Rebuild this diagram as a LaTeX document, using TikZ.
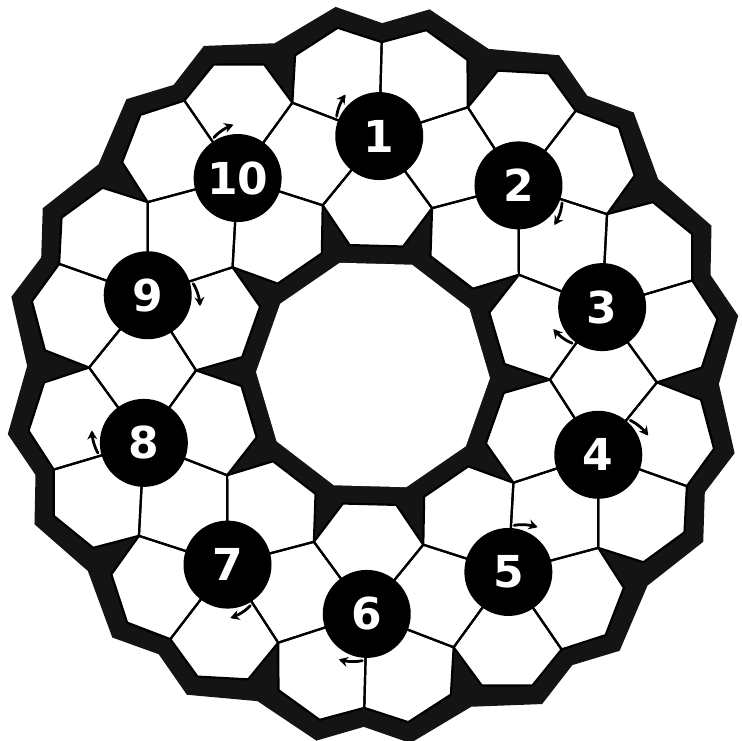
\documentclass[tikz,border=0pt]{standalone}
\usepackage{fontspec}
\setsansfont{DejaVu Sans}
\usetikzlibrary{arrows.meta}
\begin{document}
\begin{tikzpicture}[x=1pt,y=1pt,
  band/.style={fill=black!92},
  cellfill/.style={fill=white},
  celledge/.style={draw=black,line width=2.2pt,line join=round},
  numcirc/.style={circle,fill=black,minimum size=88pt,inner sep=0pt,text=white,
    font=\sffamily\bfseries\fontsize{44}{44}\selectfont},
  turn/.style={line width=2.8pt,line cap=round,-{Stealth[length=9pt,width=10pt]}}
]
\useasboundingbox (-373,-366) rectangle (369,375);
\begin{scope}[rotate=-1.5]
  % outer ring (black), including everything inside
  \fill[band] (108:346) \foreach \t in {90,54,...,-234} {
      -- ({\t+7.3}:370) -- (\t:352) -- ({\t-7.3}:370) -- ({\t-18}:346) } -- cycle;
  % central hole
  \fill[white] (0:117) \foreach \a in {36,72,...,324} { -- (\a:117) } -- cycle;
  % white cells
  \foreach \t in {90,54,...,-234} {
    \fill[cellfill] (\t:239) -- ({\t-18}:177) -- ({\t-11.7}:132) -- ({\t+11.7}:132) -- ({\t+18}:177) -- cycle;
    \fill[cellfill] (\t:239) -- ({\t+18}:284) -- ({\t+36}:239) -- ({\t+18}:177) -- cycle;
    \fill[cellfill] (\t:239) -- ({\t+18}:284) -- ({\t+15.2}:329) -- ({\t+7.3}:349) -- (\t:333) -- cycle;
    \fill[cellfill] (\t:239) -- (\t:333) -- ({\t-7.3}:349) -- ({\t-15.2}:329) -- ({\t-18}:284) -- cycle;
  }
  % cell edges
  \foreach \t in {90,54,...,-234} {
    \draw[celledge] (\t:239) -- ({\t-18}:177) -- ({\t-11.7}:132) -- ({\t+11.7}:132) -- ({\t+18}:177) -- cycle;
    \draw[celledge] (\t:239) -- ({\t+18}:284) -- ({\t+36}:239) -- ({\t+18}:177) -- cycle;
    \draw[celledge] (\t:239) -- ({\t+18}:284) -- ({\t+15.2}:329) -- ({\t+7.3}:349) -- (\t:333) -- cycle;
    \draw[celledge] (\t:239) -- (\t:333) -- ({\t-7.3}:349) -- ({\t-15.2}:329) -- ({\t-18}:284) -- cycle;
  }
  % numbered pivots
  \foreach \k in {1,...,10} {
    \pgfmathsetmacro\t{126-36*\k}
    \node[numcirc] (n\k) at (\t:239) {\k};
  }
  % small clockwise arrows
  \foreach \k/\o in {1/70.5, 2/-70.5, 3/-142.3, 4/70.5, 5/142.3, 6/0, 7/70.5, 8/0, 9/-142.3, 10/0} {
    \pgfmathsetmacro\t{126-36*\k}
    \pgfmathsetmacro\p{\t+\o}
    \draw[turn] plot[domain=0:26,samples=9,smooth]
      ({239*cos(\t)+(47+\x/4)*cos(\p-4-\x)}, {239*sin(\t)+(47+\x/4)*sin(\p-4-\x)});
  }
\end{scope}
\end{tikzpicture}
\end{document}
